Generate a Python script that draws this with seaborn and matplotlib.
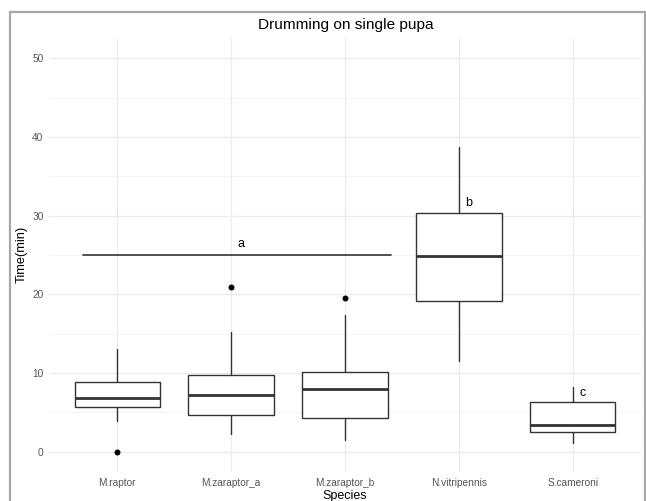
import matplotlib
matplotlib.use("Agg")
import matplotlib.pyplot as plt
import seaborn as sns
from matplotlib.patches import Rectangle

# ---- data ----
species = ["M.raptor", "M.zaraptor_a", "M.zaraptor_b", "N.vitripennis", "S.cameroni"]
whisker_low = [3.9, 2.25, 1.45, 11.5, 1.14]
q1 = [5.7, 4.7, 4.25, 19.15, 2.55]
median = [6.85, 7.2, 7.95, 24.9, 3.4]
q3 = [8.9, 9.75, 10.1, 30.3, 6.35]
whisker_high = [13.0, 15.2, 17.4, 38.75, 8.2]
outlier_species = ["M.raptor", "M.zaraptor_a", "M.zaraptor_b"]
outlier_values = [0.0, 20.9, 19.5]
letters = ["a", "b", "c"]
letter_x = [1.09, 3.09, 4.09]
letter_y = [26.4, 31.6, 7.4]
group_line_x = [-0.3, 2.4]
group_line_y = [25.0, 25.0]
yticks = [0, 10, 20, 30, 40, 50]
yminor = [5, 15, 25, 35, 45]
title = "Drumming on single pupa"

sns.set_theme(style="white")
plt.rcParams["font.family"] = ["Liberation Sans", "DejaVu Sans"]

W, H = 646, 501
fig = plt.figure(figsize=(W / 100, H / 100), dpi=100)
fig.patch.set_facecolor("white")
left, right, top, bottom = 49, 641, 38, 471.7
ax = fig.add_axes([left / W, 1 - bottom / H, (right - left) / W, (bottom - top) / H])

line_col = "#333333"

# grid
for y in yticks:
    ax.axhline(y, color="#ebebeb", lw=0.9, zorder=0)
for y in yminor:
    ax.axhline(y, color="#f3f3f3", lw=0.6, zorder=0)
for i in range(len(species)):
    ax.axvline(i, color="#ebebeb", lw=0.9, zorder=0)

# outliers via seaborn
sns.stripplot(x=outlier_species, y=outlier_values, order=species, jitter=False,
              color="black", size=4.3, ax=ax, zorder=5)

stats = []
for i, s in enumerate(species):
    stats.append(dict(whislo=whisker_low[i], q1=q1[i], med=median[i], q3=q3[i],
                      whishi=whisker_high[i], fliers=[], label=s))
ax.bxp(stats, positions=list(range(len(species))), widths=0.75, showfliers=False,
       showcaps=False, patch_artist=True, manage_ticks=False,
       boxprops=dict(facecolor="white", edgecolor=line_col, linewidth=1.0),
       whiskerprops=dict(color=line_col, linewidth=1.0),
       medianprops=dict(color=line_col, linewidth=2.0))

ax.plot(group_line_x, group_line_y, color=line_col, lw=1.2, zorder=4)
for t, x, y in zip(letters, letter_x, letter_y):
    ax.text(x, y, t, ha="center", va="center", fontsize=9, color="black", zorder=6)

ax.set_xlim(-0.6, 4.6)
ax.set_ylim(-2.54, 52.57)
ax.set_yticks(yticks)
ax.set_xticks(range(len(species)))
ax.set_xticklabels(species)
for sp in ax.spines.values():
    sp.set_visible(False)
ax.tick_params(axis="both", length=0, labelsize=7.3, labelcolor="#555555")
ax.tick_params(axis="x", pad=4.5)
ax.tick_params(axis="y", pad=4)

ax.set_xlabel("Species", fontsize=9.0, color="black")
ax.set_ylabel("Time(min)", fontsize=9.3, color="black")
ax.xaxis.set_label_coords(0.5, (bottom - 489.5) / (bottom - top))
ax.xaxis.label.set_va("top")
ax.yaxis.set_label_coords((21.7 - left) / (right - left), 0.5)
ax.yaxis.label.set_va("center")

fig.text(345.8 / W, 1 - 25 / H, title, ha="center", va="center", fontsize=11.1, color="black")

fig.add_artist(Rectangle((9.7 / W, -0.05), (645 - 9.7) / W, (1 - 11.7 / H) + 0.05,
                         transform=fig.transFigure, fill=False, edgecolor="#a8a8a8", lw=1.6))

fig.savefig("out.png", dpi=100)
